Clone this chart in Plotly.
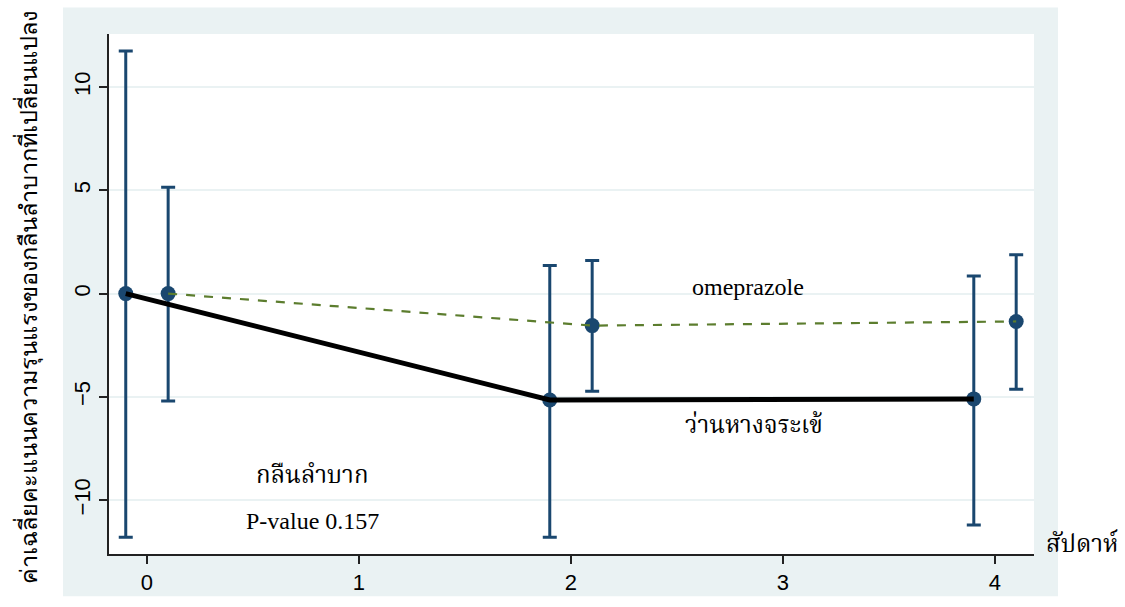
import plotly.graph_objects as go

# Week of follow-up and group labels
weeks = [0, 2, 4]
group_names = ["ว่านหางจระเข้", "omeprazole"]

# Mean change in dysphagia severity score with 95% CI, by group
aloe_mean = [0.0, -5.15, -5.1]
aloe_lo = [-11.8, -11.8, -11.2]
aloe_hi = [11.75, 1.36, 0.85]

ome_mean = [0.0, -1.55, -1.35]
ome_lo = [-5.2, -4.73, -4.63]
ome_hi = [5.15, 1.6, 1.88]

y_ticks = [-10, -5, 0, 5, 10]
x_ticks = [0, 1, 2, 3, 4]

NAVY = "#1A476F"
GREEN = "#5C7D2E"
BG = "#EAF2F3"

W, H = 1125, 607
L, R, T, B = 109, 1034, 34, 564
pw, ph = R - L, B - T


def px_x(p):
    return (p - L) / pw


def px_y(p):
    return (B - p) / ph


aloe_x = [w - 0.1 for w in weeks]
ome_x = [w + 0.1 for w in weeks]

fig = go.Figure()

for xs, m, lo, hi in [(aloe_x, aloe_mean, aloe_lo, aloe_hi), (ome_x, ome_mean, ome_lo, ome_hi)]:
    fig.add_trace(go.Scatter(
        x=xs, y=m, mode="markers",
        marker=dict(color=NAVY, size=15),
        error_y=dict(type="data", symmetric=False,
                     array=[h - v for h, v in zip(hi, m)],
                     arrayminus=[v - l for v, l in zip(m, lo)],
                     color=NAVY, thickness=3, width=7),
        showlegend=False, hoverinfo="skip",
    ))

fig.add_trace(go.Scatter(x=ome_x, y=ome_mean, mode="lines",
                         line=dict(color=GREEN, width=2.2, dash="dash"),
                         name=group_names[1], showlegend=False))
fig.add_trace(go.Scatter(x=aloe_x, y=aloe_mean, mode="lines",
                         line=dict(color="black", width=5),
                         name=group_names[0], showlegend=False))

serif_family = "Liberation Serif, Times New Roman, Noto Serif Thai, serif"
serif = dict(family=serif_family, size=24, color="black")
sans = "Liberation Sans, Arial, sans-serif"

annotations = [
    dict(x=2.835, y=0.31, text="omeprazole", font=serif),
    dict(x=2.863, y=-6.34, text=group_names[0], font=serif),
    dict(x=0.78, y=-8.77, text="กลืนลำบาก", font=serif),
    dict(x=0.78, y=-11.0, text="P-value 0.157", font=serif),
]
for a in annotations:
    a.update(xref="x", yref="y", showarrow=False, xanchor="center", yanchor="middle")

annotations += [
    dict(x=px_x(1082), y=px_y(552), xref="paper", yref="paper", text="สัปดาห์",
         showarrow=False, xanchor="center", yanchor="middle", font=serif),
    dict(x=px_x(28), y=px_y(303), xref="paper", yref="paper",
         text="ค่าเฉลี่ยคะแนนความรุนแรงของกลืนลำบากที่เปลี่ยนแปลง",
         textangle=-90, showarrow=False, xanchor="center", yanchor="middle",
         font=dict(family=sans, size=23.5, color="black")),
]

shapes = [
    dict(type="rect", xref="paper", yref="paper", layer="below",
         x0=px_x(63), x1=px_x(1058), y0=px_y(607), y1=px_y(7),
         fillcolor=BG, line=dict(width=0)),
    dict(type="rect", xref="paper", yref="paper", layer="below",
         x0=0, x1=1, y0=0, y1=1, fillcolor="white", line=dict(width=0)),
]

fig.update_layout(
    width=W, height=H,
    margin=dict(l=L, r=W - R, t=T, b=H - B),
    paper_bgcolor="white", plot_bgcolor="white",
    annotations=annotations, shapes=shapes,
    xaxis=dict(range=[-0.179, 4.184], tickvals=x_ticks, showgrid=False, zeroline=False,
               showline=True, linecolor="#222", linewidth=1.5,
               ticks="outside", ticklen=8, tickcolor="#222", tickwidth=1.5,
               tickfont=dict(family=sans, size=22, color="black")),
    yaxis=dict(range=[-12.61, 12.57], tickvals=y_ticks, showgrid=True, gridcolor=BG,
               gridwidth=2, zeroline=False,
               showline=True, linecolor="#222", linewidth=1.5,
               ticks="outside", ticklen=8, tickcolor="#222", tickwidth=1.5,
               tickangle=-90,
               tickfont=dict(family=sans, size=22, color="black")),
)

fig.write_html("out.html")
